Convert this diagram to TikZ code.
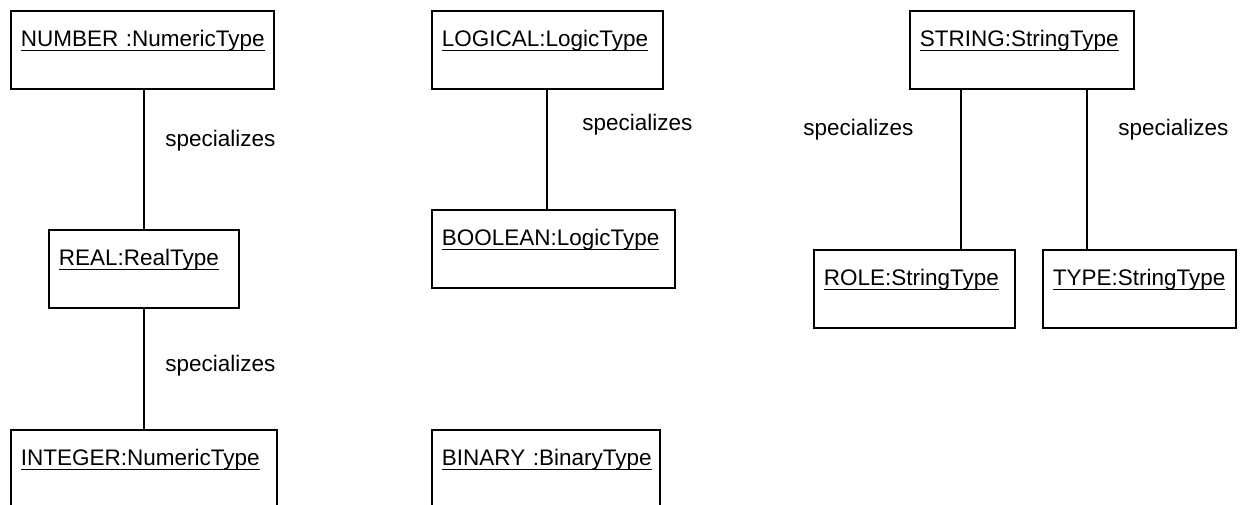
\documentclass[tikz,border=0pt]{standalone}
\usepackage{fontspec}
\setmainfont{Liberation Sans}
\usepackage{tikz}

\newcommand\objname[1]{\setbox0\hbox{#1}\rlap{\rule[-0.08cm]{\wd0}{0.7pt}}\box0}

\begin{document}
\begin{tikzpicture}[x=0.02cm, y=-0.02cm,
        obj/.style={draw, line width=1.1pt, anchor=north west, inner xsep=0.2cm, inner ysep=0pt,
            text width=#1, align=left, text height=0.72cm, text depth=0.84cm,
            font=\fontsize{12.8}{15}\selectfont},
        conn/.style={line width=1.1pt},
        spec/.style={anchor=base west, inner sep=0pt, font=\fontsize{12.8}{15}\selectfont}]
            \useasboundingbox (0,0) rectangle (1241,504);
            \clip (0,0) rectangle (1241,504);

            \node[obj=4.86cm] (number) at (10,10) {\objname{NUMBER :NumericType}};
            \node[obj=3.40cm] (real) at (48,229) {\objname{REAL:RealType}};
            \node[obj=4.92cm] (integer) at (10,429) {\objname{INTEGER:NumericType}};

            \node[obj=4.22cm] (logical) at (431,10) {\objname{LOGICAL:LogicType}};
            \node[obj=4.46cm] (boolean) at (431,209) {\objname{BOOLEAN:LogicType}};
            \node[obj=4.16cm] (binary) at (431,429) {\objname{BINARY :BinaryType}};

            \node[obj=4.08cm] (string) at (909,10) {\objname{STRING:StringType}};
            \node[obj=3.62cm] (role) at (813,249) {\objname{ROLE:StringType}};
            \node[obj=3.46cm] (type) at (1042,249) {\objname{TYPE:StringType}};

            \draw[conn] (real.north) -- (real.north |- number.south);
            \draw[conn] (integer.north) -- (integer.north |- real.south);
            \draw[conn] (logical.south) -- (logical.south |- boolean.north);

            \coordinate (s1) at ([xshift=1.04cm]string.south west);
            \coordinate (s2) at ([xshift=3.56cm]string.south west);
            \draw[conn] (s1) -- (s1 |- role.north);
            \draw[conn] (s2) -- (s2 |- type.north);

            \foreach \x/\y [count=\i] in {165/146, 165/371, 582/130, 803/135, 1118/135}
                \node[spec] (spec\i) at (\x,\y) {specializes};
        \end{tikzpicture}
\end{document}
